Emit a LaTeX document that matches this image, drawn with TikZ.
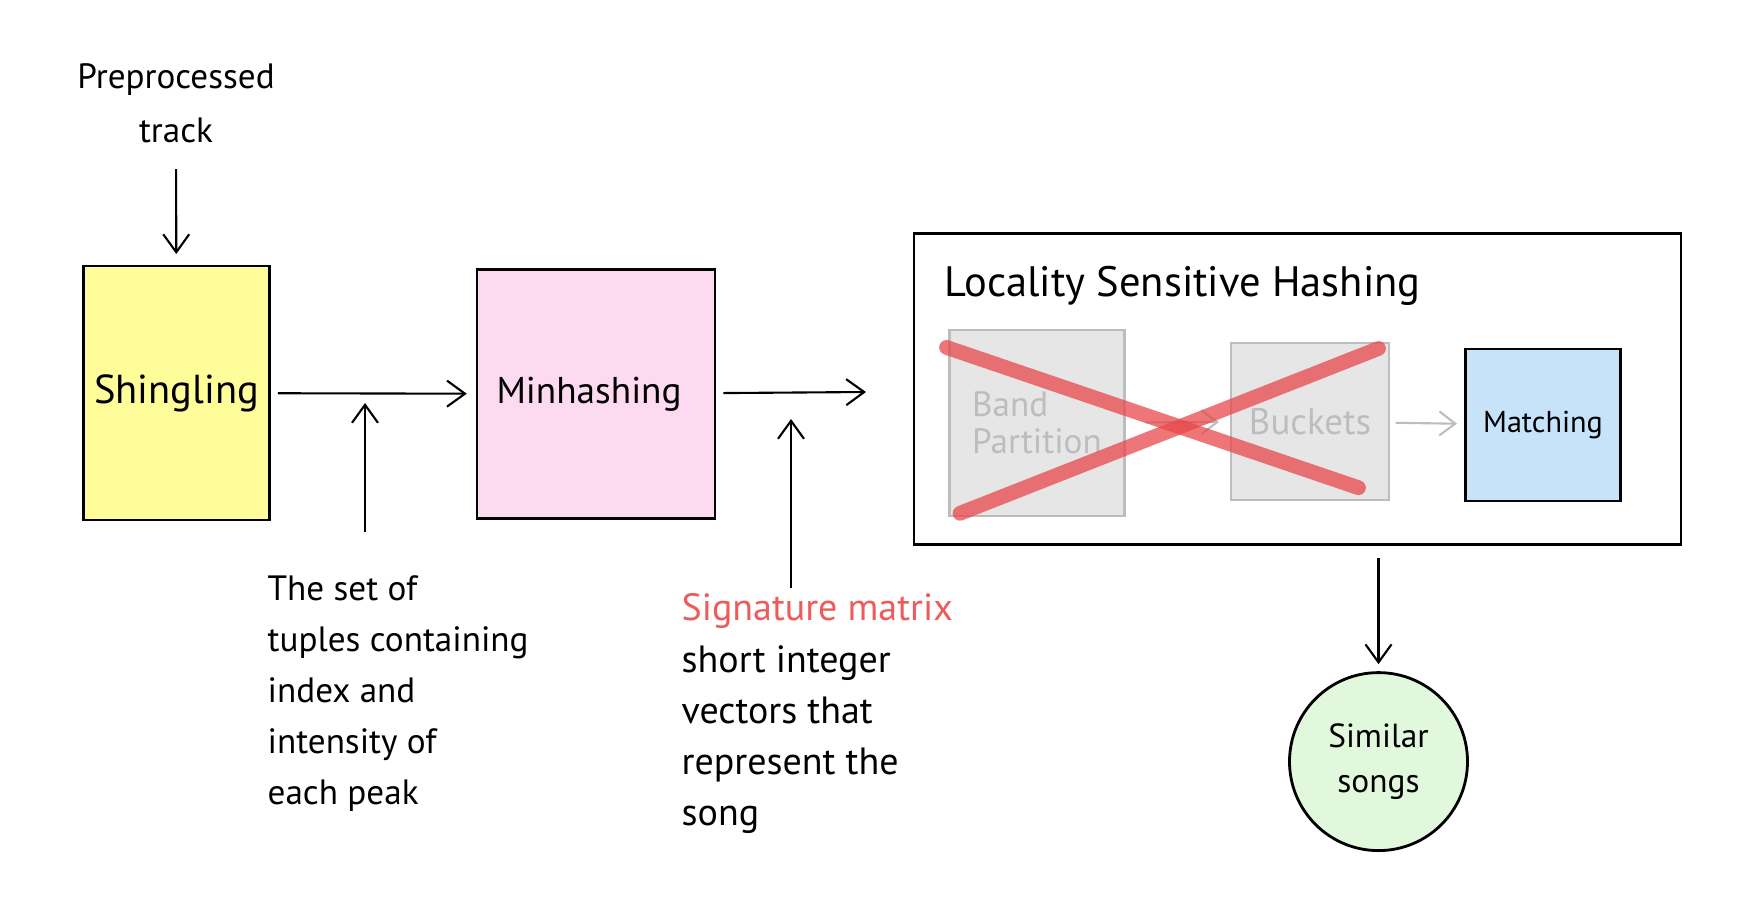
\documentclass[tikz,border=0pt]{standalone}
\usepackage{fontspec}
\setmainfont{PT Sans}
\usepackage{xcolor}
\usepackage{tikz}
\usetikzlibrary{positioning,arrows.meta,calc}
\definecolor{shingfill}{HTML}{FEFD9A}
\definecolor{minfill}{HTML}{FCDAEF}
\definecolor{matchfill}{HTML}{C6E3FA}
\definecolor{songfill}{HTML}{E2F8DC}
\definecolor{fadefill}{HTML}{E6E6E6}
\definecolor{fadeline}{HTML}{BDBDBD}
\definecolor{sigred}{HTML}{EE5B5B}
\definecolor{crossred}{HTML}{E8474B}
\tikzset{
  stage/.style={draw=black, thick, inner sep=1pt, font=\fontsize{11.5}{14}\selectfont},
  faded/.style={draw=fadeline, fill=fadefill, thick, text=fadeline, inner sep=2pt, align=left, font=\fontsize{10}{10.6}\selectfont},
  note/.style={anchor=north west, inner sep=0pt, align=left, font=\fontsize{10}{14.5}\selectfont},
  edge/.style={-{Straight Barb[length=1.8mm, width=2.6mm]}, semithick},
  fadeedge/.style={-{Straight Barb[length=1.6mm, width=2.4mm]}, semithick, fadeline},
  cross/.style={line width=4.2pt, crossred, opacity=0.75, line cap=round},
}

\begin{document}
\begin{tikzpicture}
  \useasboundingbox (0,0) rectangle (17.46,9.08);
  % pipeline
  \node[align=center, font=\fontsize{10}{15.4}\selectfont] (pre) at (1.76,8.05) {Preprocessed\\track};
  \node[stage, fill=shingfill, minimum width=1.86cm, minimum height=2.54cm] (shing) at (1.765,5.15) {Shingling};
  \node[stage, fill=minfill, minimum width=2.38cm, minimum height=2.49cm, text width=1.99cm, align=left, font=\fontsize{10.6}{14}\selectfont] (minh) at (5.96,5.14) {Minhashing};
  \draw[edge, shorten <=4pt, shorten >=3pt] (pre) -- (shing);
  \draw[edge, shorten <=2pt, shorten >=2.5pt] (shing) -- (minh);
  % notes under the arrows
  \node[note] (tuples) at (2.67,3.33) {The set of\\tuples containing\\index and\\intensity of\\each peak};
  \coordinate (t1) at (3.65,3.76);
  \coordinate (t2) at (3.65,5.05);
  \draw[edge] (t1) -- (t2);
  \coordinate (sigend) at (8.66,5.16);
  \draw[edge, shorten <=2pt] (minh) -- (sigend);
  \node[note, font=\fontsize{10.8}{14.6}\selectfont] (sig) at (6.81,3.15) {\textcolor{sigred}{Signature matrix}\\short integer\\vectors that\\represent the\\song};
  \coordinate (s1) at (7.91,3.20);
  \coordinate (s2) at (7.91,4.89);
  \draw[edge] (s1) -- (s2);
  % LSH block
  \node[draw=black, thick, minimum width=7.67cm, minimum height=3.105cm] (lsh) at (12.975,5.19) {};
  \node[anchor=west, inner sep=0pt, font=\fontsize{12.1}{15}\selectfont] (lshtitle) at (9.44,6.22) {Locality Sensitive Hashing};
  \node[faded, minimum width=1.75cm, minimum height=1.86cm] (band) at (10.37,4.85) {Band\\Partition};
  \node[faded, font=\fontsize{10.5}{12}\selectfont, minimum width=1.58cm, minimum height=1.57cm] (buck) at (13.1,4.865) {Buckets};
  \node[stage, fill=matchfill, minimum width=1.55cm, minimum height=1.52cm, font=\fontsize{8.6}{12}\selectfont] (match) at (15.43,4.83) {Matching};
  \draw[fadeedge, shorten <=5.5pt, shorten >=3pt] (band) -- (buck);
  \draw[fadeedge, shorten <=1.5pt, shorten >=2pt] (buck) -- (match);
  \draw[cross] (9.465,5.606) -- (13.585,4.203);
  \draw[cross] (9.6,3.947) -- (13.785,5.595);
  % result
  \node[circle, draw=black, thick, fill=songfill, minimum size=1.78cm, align=center, font=\fontsize{9.5}{13}\selectfont] (songs) at (13.785,1.464) {Similar\\songs};
  \draw[edge, shorten <=3.5pt, shorten >=2pt] (songs.north |- lsh.south) -- (songs.north);
\end{tikzpicture}
\end{document}
